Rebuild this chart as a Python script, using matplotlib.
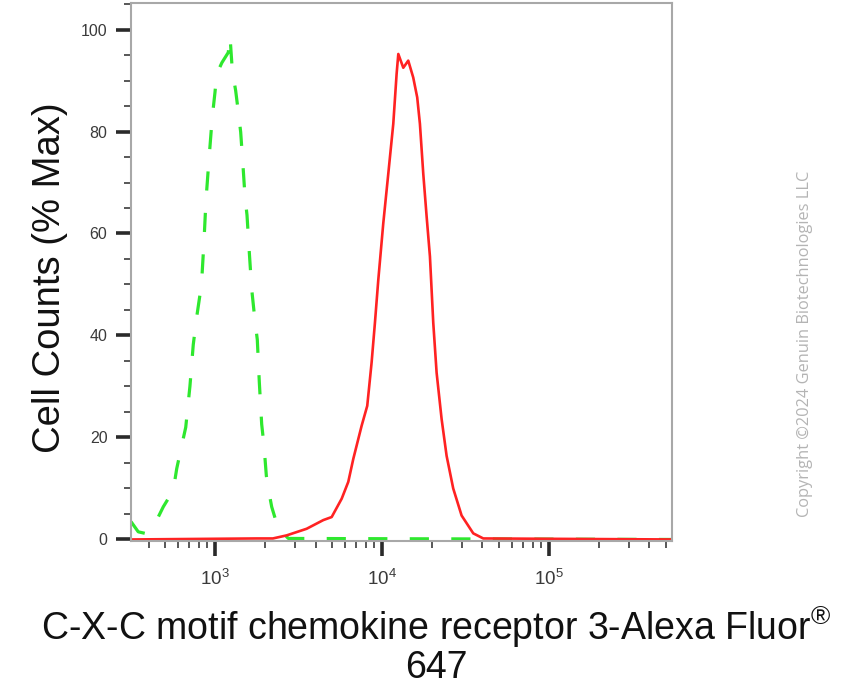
#Flow cytometry histogram: isotype control vs stained sample
import matplotlib
matplotlib.use("Agg")
import matplotlib.pyplot as plt
from matplotlib.ticker import LogLocator, NullFormatter, MultipleLocator

plt.rcParams["font.family"] = ["Liberation Sans", "DejaVu Sans"]
plt.rcParams["mathtext.fontset"] = "custom"
plt.rcParams["mathtext.rm"] = "Liberation Sans"
plt.rcParams["mathtext.it"] = "Liberation Sans:italic"
plt.rcParams["mathtext.bf"] = "Liberation Sans:bold"

#Isotype control (green dashed)
greenX = [314, 347, 381, 428, 490, 562, 590, 626, 668, 708, 741, 780, 830, 859, 883,
          921, 963, 1000, 1024, 1100, 1201, 1230, 1270, 1330, 1380, 1425, 1470, 1513,
          1555, 1600, 1660, 1737, 1792, 1843, 1904, 1966, 2030, 2084, 2186, 2394, 2750, 546000]
greenY = [3.5, 1.5, 1.2, 2.5, 6.4, 9.6, 13.9, 17.8, 22.0, 30.1, 38.2, 44.0, 50.0, 58.4, 66.5,
          74.7, 82.8, 87.7, 91.3, 93.5, 95.5, 98.7, 91.9, 88.0, 83.8, 79.9, 73.5, 67.2,
          63.6, 57.0, 49.0, 42.8, 39.2, 30.8, 22.6, 18.4, 12.5, 10.0, 6.4, 2.1, 0.2, 0.0]

#CXCR3 stained sample (red solid)
redX = [314, 1778, 2223, 2686, 3540, 4453, 4999, 5740, 6285, 6735, 7216, 7556, 8163, 8670,
        9077, 9507, 10184, 10911, 11690, 12240, 12530, 13420, 14370, 15390, 16260, 16880,
        17680, 18520, 19380, 20290, 21250, 22770, 24390, 26720, 29990, 35220, 40440, 546000]
redY = [0.0, 0.2, 0.2, 0.8, 2.1, 3.8, 4.4, 8.0, 11.3, 15.8, 19.7, 22.3, 26.2, 34.7,
        42.5, 50.9, 62.0, 71.7, 81.5, 91.3, 95.2, 92.5, 93.9, 90.6, 86.7, 81.5,
        71.7, 63.3, 55.5, 42.5, 32.7, 23.6, 16.4, 10.0, 4.7, 1.2, 0.2, 0.0]

fig = plt.figure(figsize=(8.48, 6.9), dpi=100)
ax = fig.add_axes([131/848, 1 - 541/690, (672 - 131)/848, (541 - 3)/690])

ax.plot(greenX, greenY, color="#2ee82e", lw=2.3, dashes=(6, 7))
ax.plot(redX, redY, color="#ff2222", lw=1.9)

ax.set_xscale("log")
ax.set_xlim(314, 546000)
ax.set_ylim(-0.3, 105.2)

ax.xaxis.set_major_locator(LogLocator(base=10, numticks=10))
ax.xaxis.set_minor_locator(LogLocator(base=10, subs=range(2, 10), numticks=20))
ax.xaxis.set_minor_formatter(NullFormatter())
ax.yaxis.set_major_locator(MultipleLocator(20))
ax.yaxis.set_minor_locator(MultipleLocator(5))

for s in ax.spines.values():
    s.set_color("#a8a8a8")
    s.set_linewidth(1.5)

ax.tick_params(which="major", direction="out", length=11, width=2.6, color="#2a2a2a",
               labelsize=11.5, labelcolor="#3a3a3a", pad=6)
ax.tick_params(which="minor", direction="out", length=5, width=1.1, color="#2a2a2a")
ax.tick_params(axis="x", which="major", labelsize=13.5, pad=9)

fig.text(50/848, 1 - 278/690, "Cell Counts (% Max)", rotation=90, ha="center", va="center",
         fontsize=27.5, color="#111111")
fig.text(436/848, 1 - 645/690, "C-X-C motif chemokine receptor 3-Alexa Fluor$^{®}$\n647",
         ha="center", va="center", fontsize=27, color="#111111", linespacing=1.0)
fig.text(805/848, 1 - 344/690, "Copyright \u00a92024 Genuin Biotechnologies LLC", rotation=90,
         ha="center", va="center", fontsize=11.8, color="#b4b4b4", family="Open Sans")

fig.savefig("out.png", dpi=100)
